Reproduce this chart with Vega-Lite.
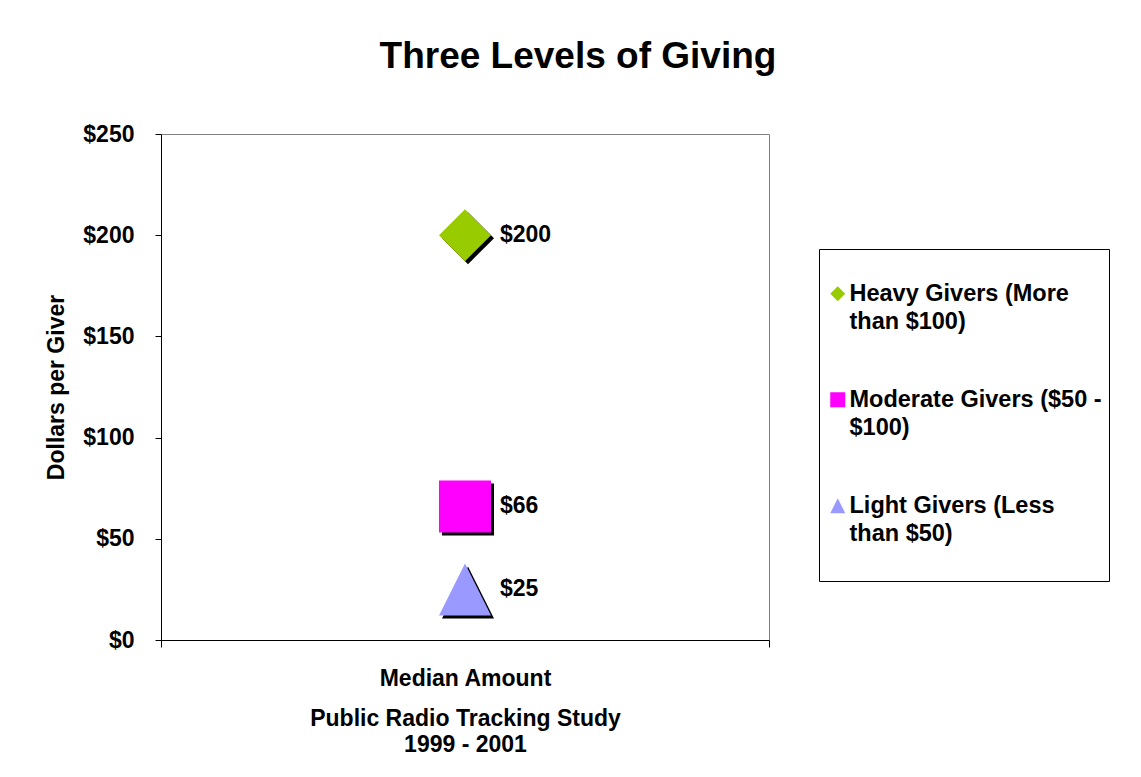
{
  "$schema": "https://vega.github.io/schema/vega-lite/v6.json",
  "width": 608,
  "height": 506,
  "autosize": {"type": "none"},
  "padding": {"left": 161, "top": 134, "right": 372, "bottom": 137},
  "background": "white",
  "title": {
    "text": "Three Levels of Giving",
    "fontSize": 37,
    "font": "Liberation Sans",
    "fontWeight": "bold",
    "color": "black",
    "anchor": "middle",
    "frame": "group",
    "dx": 113,
    "baseline": "alphabetic",
    "offset": 18
  },
  "data": {
    "values": [
      {"category": "Median Amount", "giver": "Heavy Givers (More than $100)", "amount": 200},
      {"category": "Median Amount", "giver": "Moderate Givers ($50 - $100)", "amount": 66},
      {"category": "Median Amount", "giver": "Light Givers (Less than $50)", "amount": 25}
    ]
  },
  "encoding": {
    "x": {
      "field": "category",
      "type": "nominal",
      "scale": {"paddingInner": 0, "paddingOuter": 0},
      "axis": {
        "title": ["Public Radio Tracking Study", "1999 - 2001"],
        "labelAngle": 0,
        "tickBand": "extent",
        "tickSize": 7,
        "tickColor": "black",
        "domainColor": "black",
        "labelPadding": 20,
        "labelFontSize": 23,
        "labelFontWeight": "bold",
        "labelColor": "black",
        "titleFontSize": 23,
        "titleFontWeight": "bold",
        "titleColor": "black",
        "titleLineHeight": 26,
        "titlePadding": 17
      }
    },
    "y": {
      "field": "amount",
      "type": "quantitative",
      "scale": {"domain": [0, 250], "nice": false},
      "axis": {
        "title": "Dollars per Giver",
        "values": [0, 50, 100, 150, 200, 250],
        "format": "$.0f",
        "grid": false,
        "tickSize": 6,
        "tickColor": "black",
        "domainColor": "black",
        "labelPadding": 21,
        "labelFlush": false,
        "labelOverlap": false,
        "labelFontSize": 23,
        "labelFontWeight": "bold",
        "labelColor": "black",
        "titleFontSize": 23,
        "titleFontWeight": "bold",
        "titleColor": "black",
        "titlePadding": 14
      }
    }
  },
  "layer": [
    {
      "mark": {"type": "point", "filled": true, "opacity": 1, "size": 2704, "color": "black", "xOffset": 3, "yOffset": 3},
      "encoding": {
        "shape": {
          "field": "giver",
          "type": "nominal",
          "scale": {
            "domain": ["Heavy Givers (More than $100)", "Moderate Givers ($50 - $100)", "Light Givers (Less than $50)"],
            "range": ["diamond", "square", "M0,-1L1,1L-1,1Z"]
          },
          "legend": {
            "title": " ",
            "titleFontSize": 12,
            "titlePadding": 14,
            "orient": "none",
            "legendX": 658,
            "legendY": 115,
            "strokeColor": "black",
            "padding": 7,
            "symbolSize": 225,
            "labelFontSize": 23.5,
            "labelFontWeight": "bold",
            "labelColor": "black",
            "labelLimit": 400,
            "labelOffset": 0,
            "rowPadding": 25,
            "labelBaseline": "alphabetic",
            "labelExpr": "datum.label == 'Heavy Givers (More than $100)' ? ['Heavy Givers (More', 'than $100)', ''] : datum.label == 'Moderate Givers ($50 - $100)' ? ['Moderate Givers ($50 -', '$100)', ''] : ['Light Givers (Less', 'than $50)', '']",
            "encoding": {"labels": {"dy": {"value": 7}, "lineHeight": {"value": 28}}}
          }
        }
      }
    },
    {
      "mark": {"type": "point", "filled": true, "opacity": 1, "size": 2704},
      "encoding": {
        "shape": {
          "field": "giver",
          "type": "nominal",
          "scale": {
            "domain": ["Heavy Givers (More than $100)", "Moderate Givers ($50 - $100)", "Light Givers (Less than $50)"],
            "range": ["diamond", "square", "M0,-1L1,1L-1,1Z"]
          },
          "legend": {
            "title": " ",
            "titleFontSize": 12,
            "titlePadding": 14,
            "orient": "none",
            "legendX": 658,
            "legendY": 115,
            "strokeColor": "black",
            "padding": 7,
            "symbolSize": 225,
            "labelFontSize": 23.5,
            "labelFontWeight": "bold",
            "labelColor": "black",
            "labelLimit": 400,
            "labelOffset": 0,
            "rowPadding": 25,
            "labelBaseline": "alphabetic",
            "labelExpr": "datum.label == 'Heavy Givers (More than $100)' ? ['Heavy Givers (More', 'than $100)', ''] : datum.label == 'Moderate Givers ($50 - $100)' ? ['Moderate Givers ($50 -', '$100)', ''] : ['Light Givers (Less', 'than $50)', '']",
            "encoding": {"labels": {"dy": {"value": 7}, "lineHeight": {"value": 28}}}
          }
        },
        "color": {
          "field": "giver",
          "type": "nominal",
          "scale": {
            "domain": ["Heavy Givers (More than $100)", "Moderate Givers ($50 - $100)", "Light Givers (Less than $50)"],
            "range": ["#99CC00", "#FF00FF", "#9999FF"]
          },
          "legend": {
            "title": " ",
            "titleFontSize": 12,
            "titlePadding": 14,
            "orient": "none",
            "legendX": 658,
            "legendY": 115,
            "strokeColor": "black",
            "padding": 7,
            "symbolSize": 225,
            "labelFontSize": 23.5,
            "labelFontWeight": "bold",
            "labelColor": "black",
            "labelLimit": 400,
            "labelOffset": 0,
            "rowPadding": 25,
            "labelBaseline": "alphabetic",
            "labelExpr": "datum.label == 'Heavy Givers (More than $100)' ? ['Heavy Givers (More', 'than $100)', ''] : datum.label == 'Moderate Givers ($50 - $100)' ? ['Moderate Givers ($50 -', '$100)', ''] : ['Light Givers (Less', 'than $50)', '']",
            "encoding": {"labels": {"dy": {"value": 7}, "lineHeight": {"value": 28}}}
          }
        }
      }
    },
    {
      "mark": {"type": "text", "align": "left", "baseline": "middle", "dx": 35, "fontSize": 23, "fontWeight": "bold", "color": "black"},
      "encoding": {
        "text": {"field": "amount", "type": "quantitative", "format": "$.0f"}
      }
    }
  ],
  "config": {
    "font": "Liberation Sans",
    "view": {"stroke": "#808080", "strokeWidth": 1}
  }
}
